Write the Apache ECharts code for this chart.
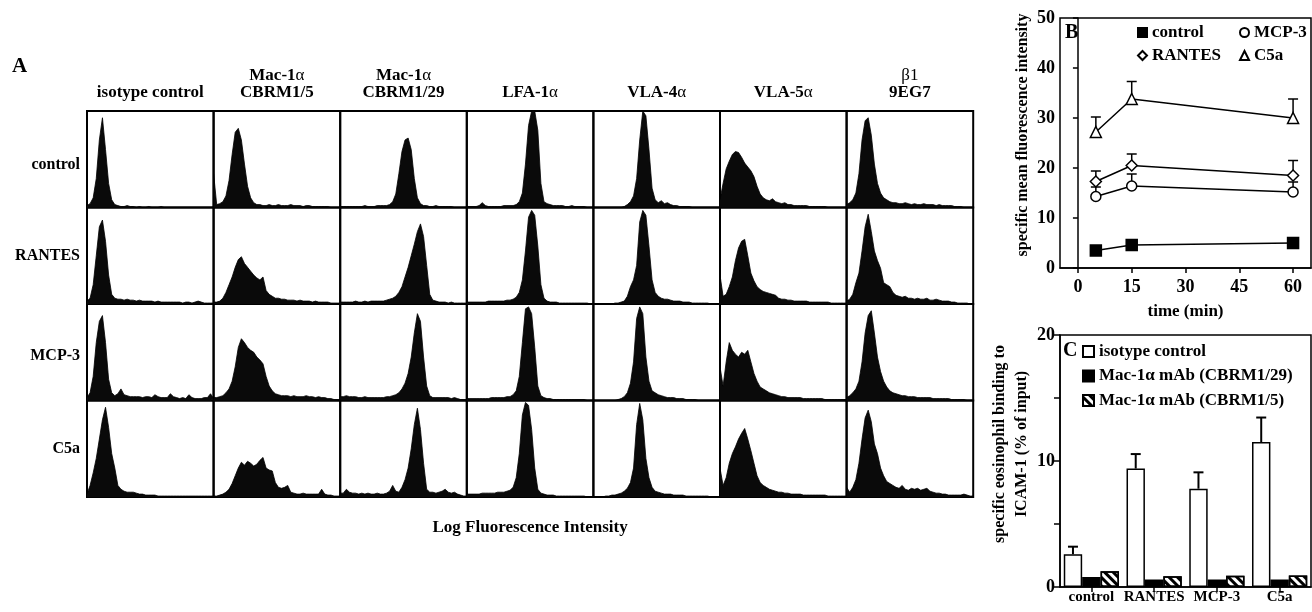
<!DOCTYPE html>
<html><head><meta charset="utf-8">
<script src="https://cdn.jsdelivr.net/npm/echarts@6/dist/echarts.min.js"></script>
<style>html,body{margin:0;padding:0;background:#fff}#c{width:1312px;height:612px}</style>
</head><body><div id="c"></div>
<script>
// ---------- Panel A: flow cytometry histograms (height in % of panel, 42 channels) ----------
const columnLabels = ['isotype control', 'Mac-1α\nCBRM1/5', 'Mac-1α\nCBRM1/29', 'LFA-1α', 'VLA-4α', 'VLA-5α', 'β1\n9EG7'];
const conditions = ['control', 'RANTES', 'MCP-3', 'C5a'];
const axisTitleA = 'Log Fluorescence Intensity';

const hCtrlIso   = [2,4,10,30,70,93,60,25,8,3, 2,1,1,2,1,1,0,1,0,0, 1,0,0,0,1,0,0,0,0,0, 0,0,0,0,0,0,0,0,0,0, 0,0];
const hCtrlMac5  = [35,3,4,6,12,28,55,78,82,70, 45,22,10,5,3,3,2,2,3,2, 2,3,2,2,2,3,2,2,2,1, 2,2,1,1,1,1,1,1,0,0, 0,0];
const hCtrlMac29 = [1,1,1,1,1,1,1,1,2,1, 1,1,2,2,2,2,3,6,14,35, 58,70,72,60,30,10,4,2,2,1, 1,2,1,1,1,1,1,0,0,0, 0,0];
const hCtrlLfa   = [1,1,1,1,2,5,2,1,1,1, 1,1,2,2,2,2,3,6,15,45, 85,100,100,80,25,6,4,3,2,2, 2,2,1,1,2,1,1,1,1,0, 0,0];
const hCtrlVla4  = [0,0,0,0,0,0,0,0,0,0, 1,3,6,12,30,70,100,95,60,20, 8,5,7,4,5,3,2,2,1,1, 1,1,0,0,0,0,0,0,0,0, 0,0];
const hCtrlVla5  = [8,25,40,48,55,58,57,52,46,42, 38,32,22,14,10,8,7,9,6,5, 4,5,3,3,2,2,2,2,2,1, 1,1,1,1,1,0,0,0,0,0, 0,0];
const hCtrlB1    = [3,5,8,15,35,70,90,93,75,45, 25,15,10,8,6,5,5,4,4,5, 4,3,4,3,3,4,3,3,3,2, 3,2,2,2,2,1,1,1,0,0, 0,0];

const hRanIso    = [3,6,20,50,80,87,65,30,10,6, 5,5,4,5,4,4,3,4,3,3, 3,3,2,3,2,2,2,2,2,2, 2,1,2,2,1,2,3,2,1,1, 1,1];
const hRanMac5   = [2,2,3,6,12,20,28,38,46,49, 42,38,34,30,27,25,28,14,10,8, 6,6,5,5,4,4,4,3,4,3, 3,3,2,3,2,2,2,2,1,1, 1,1];
const hRanMac29  = [2,2,2,2,2,3,2,2,3,2, 3,3,3,3,3,4,5,6,8,12, 18,28,38,50,62,75,83,70,40,10, 4,3,2,2,2,1,2,1,1,1, 1,1];
const hRanLfa    = [2,2,2,2,2,2,2,3,3,3, 3,3,3,4,4,5,7,12,25,55, 90,97,92,60,20,6,3,2,2,2, 1,1,1,1,1,1,1,1,1,1, 0,0];
const hRanVla4   = [0,0,0,0,0,0,0,1,1,2, 3,8,18,25,40,85,97,92,60,25, 12,8,6,5,5,4,3,3,3,2, 2,2,1,1,1,1,1,1,0,0, 0,0];
const hRanVla5   = [30,8,10,18,28,45,58,65,67,50, 32,24,18,15,13,12,11,10,9,6, 5,5,4,4,3,3,3,3,3,2, 2,2,2,2,2,2,1,1,1,1, 1,1];
const hRanB1     = [3,5,10,22,32,55,80,93,75,55, 45,37,22,20,18,12,9,8,7,8, 6,6,5,6,5,5,6,4,4,5, 4,3,3,3,2,2,1,1,1,1, 0,0];

const hMcpIso    = [3,8,25,60,82,88,60,22,8,5, 7,12,6,5,4,4,4,4,3,4, 4,3,6,4,3,3,3,7,4,3, 2,3,2,6,3,2,2,2,3,3, 7,2];
const hMcpMac5   = [3,3,4,5,8,12,20,35,55,64, 60,55,52,50,45,42,38,25,15,10, 7,6,5,5,5,4,5,4,4,4, 5,4,4,3,4,3,3,2,2,1, 1,1];
const hMcpMac29  = [4,4,5,4,4,4,3,3,4,3, 3,3,3,3,3,4,4,5,6,8, 12,18,28,45,70,90,82,45,15,5, 3,3,3,3,3,3,2,3,2,1, 1,1];
const hMcpLfa    = [2,2,2,2,2,2,2,2,3,3, 3,3,3,4,4,6,10,25,60,95, 97,90,55,15,5,3,2,2,1,1, 1,1,1,1,1,1,1,1,1,0, 0,0];
const hMcpVla4   = [0,0,0,0,0,0,0,0,1,2, 4,8,18,40,85,97,90,45,20,10, 8,6,5,4,3,3,3,2,2,2, 1,1,1,1,0,0,0,0,0,0, 0,0];
const hMcpVla5   = [35,15,40,60,52,48,45,50,48,52, 40,28,20,14,12,10,8,7,6,5, 4,4,3,3,3,3,3,2,2,2, 2,2,2,2,1,1,1,1,1,1, 1,1];
const hMcpB1     = [3,5,8,12,20,40,70,88,93,70, 45,30,20,14,10,8,7,6,5,5, 4,4,4,3,3,3,3,3,2,2, 2,2,2,2,1,1,1,1,1,0, 0,0];

const hC5aIso    = [3,12,25,40,60,80,93,72,45,30, 12,8,6,5,5,5,4,3,3,2, 2,2,2,1,1,1,1,1,1,1, 1,1,1,1,1,1,1,1,1,1, 1,1];
const hC5aMac5   = [1,1,2,3,5,8,14,22,30,36, 33,37,35,32,34,38,41,30,28,27, 15,10,9,10,12,5,4,3,3,4, 3,3,3,3,3,8,3,2,2,1, 1,1];
const hC5aMac29  = [4,4,8,5,4,4,3,4,3,4, 3,3,4,3,3,4,6,12,6,5, 10,18,30,50,75,92,70,35,8,5, 5,4,5,6,8,5,4,5,3,2, 1,1];
const hC5aLfa    = [3,3,3,3,3,4,4,4,4,4, 5,5,5,6,7,10,20,45,85,98, 95,70,30,8,4,3,2,2,2,1, 1,1,1,1,1,1,1,1,1,0, 0,0];
const hC5aVla4   = [0,0,0,0,1,1,2,2,3,4, 6,9,15,30,75,97,80,40,20,10, 6,5,4,3,3,3,2,2,2,2, 1,1,1,1,1,1,1,1,0,0, 0,0];
const hC5aVla5   = [30,12,20,35,45,52,60,66,71,60, 48,35,22,15,12,10,8,7,6,5, 5,4,4,3,3,3,3,2,2,2, 2,2,2,2,2,1,1,1,1,1, 1,1];
const hC5aB1     = [10,5,10,18,35,60,82,90,78,55, 45,30,22,16,14,12,10,9,12,8, 7,9,8,9,7,8,9,6,5,4, 4,3,3,2,2,2,2,2,3,2, 1,1];

// ---------- Panel B: MFI time course ----------
const timePoints = [5, 15, 60];
const timeTicks = [0, 15, 30, 45, 60];
const mfiControl = [3.5, 4.6, 5.0];
const mfiMCP3 = [14.3, 16.4, 15.2];
const mfiMCP3Err = [1.9, 2.4, 2.0];
const mfiRANTES = [17.3, 20.5, 18.5];
const mfiRANTESErr = [2.1, 2.3, 3.0];
const mfiC5a = [27.2, 33.8, 30.0];
const mfiC5aErr = [3.0, 3.5, 3.8];

// ---------- Panel C: binding to ICAM-1 ----------
const bindCats = ['control', 'RANTES', 'MCP-3', 'C5a'];
const bindIsotype = [2.6, 9.4, 7.8, 11.5];
const bindIsotypeErr = [0.6, 1.15, 1.3, 1.95];
const bindCBRM29 = [0.8, 0.6, 0.6, 0.6];
const bindCBRM5 = [1.25, 0.85, 0.9, 0.92];

// ---------- build ----------
const histRows = [
  [hCtrlIso, hCtrlMac5, hCtrlMac29, hCtrlLfa, hCtrlVla4, hCtrlVla5, hCtrlB1],
  [hRanIso, hRanMac5, hRanMac29, hRanLfa, hRanVla4, hRanVla5, hRanB1],
  [hMcpIso, hMcpMac5, hMcpMac29, hMcpLfa, hMcpVla4, hMcpVla5, hMcpB1],
  [hC5aIso, hC5aMac5, hC5aMac29, hC5aLfa, hC5aVla4, hC5aVla5, hC5aB1]
];
const SERIF = "'Liberation Serif','Times New Roman',serif";
const A_LEFT = 87, A_TOP = 111, CELL_W = 126.6, CELL_H = 96.5;

const grid = [], xAxis = [], yAxis = [], series = [], graphic = [];
histRows.forEach((row, r) => {
  row.forEach((h, c) => {
    const idx = grid.length;
    grid.push({left: A_LEFT + c * CELL_W, top: A_TOP + r * CELL_H, width: CELL_W, height: CELL_H,
      show: true, borderColor: '#000', borderWidth: 2, backgroundColor: 'transparent'});
    xAxis.push({gridIndex: idx, type: 'category', boundaryGap: false, data: h.map((_, i) => i), show: false});
    yAxis.push({gridIndex: idx, type: 'value', min: 0, max: 100, show: false});
    series.push({type: 'line', xAxisIndex: idx, yAxisIndex: idx, data: h, symbol: 'none', silent: true,
      lineStyle: {color: '#000', width: 0.8}, areaStyle: {color: '#0a0a0a', opacity: 1}, animation: false});
  });
});

// Panel B
const gB = grid.length;
grid.push({left: 1060, top: 18, width: 251, height: 250, show: true, borderColor: '#000', borderWidth: 1.5, backgroundColor: 'transparent'});
xAxis.push({gridIndex: gB, type: 'value', min: -5, max: 65,
  axisLine: {show: true, onZero: false, lineStyle: {color: '#000', width: 1.5}},
  axisTick: {show: true, customValues: timeTicks, length: 5, lineStyle: {color: '#000', width: 1.5}},
  axisLabel: {customValues: timeTicks, color: '#000', fontFamily: SERIF, fontWeight: 'bold', fontSize: 18, margin: 10},
  splitLine: {show: false},
  name: 'time (min)', nameLocation: 'middle', nameGap: 35,
  nameTextStyle: {color: '#000', fontFamily: SERIF, fontWeight: 'bold', fontSize: 17}});
yAxis.push({gridIndex: gB, type: 'value', min: 0, max: 50, interval: 10,
  axisLine: {show: true, lineStyle: {color: '#000', width: 1.5}},
  axisTick: {show: true, length: 5, lineStyle: {color: '#000', width: 1.5}},
  axisLabel: {color: '#000', fontFamily: SERIF, fontWeight: 'bold', fontSize: 18, margin: 5},
  splitLine: {show: false},
  name: 'specific mean fluorescence intensity', nameLocation: 'middle', nameGap: 29,
  nameTextStyle: {color: '#000', fontFamily: SERIF, fontWeight: 'bold', fontSize: 16, padding: [0, 0, 0, 16]}});

function errBar(capHalf) {
  return function (params, api) {
    const p0 = api.coord([api.value(0), api.value(1)]);
    const p1 = api.coord([api.value(0), api.value(1) + api.value(2)]);
    return {type: 'group', children: [
      {type: 'line', shape: {x1: p0[0], y1: p0[1], x2: p1[0], y2: p1[1]}, style: {stroke: '#000', lineWidth: 1.5}},
      {type: 'line', shape: {x1: p1[0] - capHalf, y1: p1[1], x2: p1[0] + capHalf, y2: p1[1]}, style: {stroke: '#000', lineWidth: 1.5}}
    ]};
  };
}
const lineB = (name, vals, symbol, size, fill) => ({
  name, type: 'line', xAxisIndex: gB, yAxisIndex: gB, data: timePoints.map((t, i) => [t, vals[i]]),
  symbol, symbolSize: size, z: 3, animation: false,
  lineStyle: {color: '#000', width: 1.5},
  itemStyle: {color: fill, borderColor: '#000', borderWidth: 1.5}
});
[[mfiMCP3, mfiMCP3Err], [mfiRANTES, mfiRANTESErr], [mfiC5a, mfiC5aErr]].forEach(([v, e]) => {
  series.push({type: 'custom', xAxisIndex: gB, yAxisIndex: gB, z: 1, silent: true, animation: false,
    data: timePoints.map((t, i) => [t, v[i], e[i]]), renderItem: errBar(5)});
});
series.push(lineB('control', mfiControl, 'rect', 11, '#000'));
series.push(lineB('MCP-3', mfiMCP3, 'circle', 10, '#fff'));
series.push(lineB('RANTES', mfiRANTES, 'diamond', 11, '#fff'));
series.push(lineB('C5a', mfiC5a, 'triangle', 11, '#fff'));

// Panel C
const gC = grid.length;
const BAR_GAP = 0.12;
grid.push({left: 1060, top: 335, width: 251, height: 252, show: true, borderColor: '#000', borderWidth: 1.5, backgroundColor: 'transparent'});
xAxis.push({gridIndex: gC, type: 'category', data: bindCats,
  axisLine: {show: true, lineStyle: {color: '#000', width: 1.5}},
  axisTick: {show: true, alignWithLabel: true, length: 5, lineStyle: {color: '#000', width: 1.5}},
  axisLabel: {interval: 0, color: '#000', fontFamily: SERIF, fontWeight: 'bold', fontSize: 15, margin: 3}});
yAxis.push({gridIndex: gC, type: 'value', min: 0, max: 20, interval: 5,
  axisLine: {show: true, lineStyle: {color: '#000', width: 1.5}},
  axisTick: {show: true, length: 6, lineStyle: {color: '#000', width: 1.5}},
  axisLabel: {color: '#000', fontFamily: SERIF, fontWeight: 'bold', fontSize: 18, margin: 5,
    formatter: v => (v % 10 === 0 ? String(v) : '')},
  splitLine: {show: false},
  name: 'specific eosinophil binding to\nICAM-1 (% of input)', nameLocation: 'middle', nameGap: 27,
  nameTextStyle: {color: '#000', fontFamily: SERIF, fontWeight: 'bold', fontSize: 16, lineHeight: 22, padding: [0, 0, 0, 34]}});
const barC = (name, vals, style) => ({
  name, type: 'bar', xAxisIndex: gC, yAxisIndex: gC, data: vals, barGap: '0%', barCategoryGap: (BAR_GAP * 100) + '%',
  itemStyle: style, animation: false
});
series.push(barC('isotype control', bindIsotype, {color: '#fff', borderColor: '#000', borderWidth: 1.5}));
series.push(barC('Mac-1α mAb (CBRM1/29)', bindCBRM29, {color: '#000', borderColor: '#000', borderWidth: 1.5}));
series.push(barC('Mac-1α mAb (CBRM1/5)', bindCBRM5, {color: '#fff', borderColor: '#000', borderWidth: 1.5,
  decal: {symbol: 'rect', symbolSize: 1, dashArrayX: [1, 0], dashArrayY: [3, 3], rotation: Math.PI / 4, color: '#000'}}));
series.push({type: 'custom', xAxisIndex: gC, yAxisIndex: gC, z: 5, silent: true, animation: false,
  data: bindCats.map((c, i) => [i, bindIsotype[i], bindIsotypeErr[i]]),
  renderItem: function (params, api) {
    const band = api.size([1, 0])[0];
    const shift = -band * (1 - BAR_GAP) / 3;
    const p0 = api.coord([api.value(0), api.value(1)]);
    const p1 = api.coord([api.value(0), api.value(1) + api.value(2)]);
    const x = p0[0] + shift;
    return {type: 'group', children: [
      {type: 'line', shape: {x1: x, y1: p0[1], x2: x, y2: p1[1]}, style: {stroke: '#000', lineWidth: 2}},
      {type: 'line', shape: {x1: x - 5, y1: p1[1], x2: x + 5, y2: p1[1]}, style: {stroke: '#000', lineWidth: 2}}
    ]};
  }});

// texts
const txt = (x, y, text, font, align, vAlign, extra) => ({type: 'text', x, y, silent: true,
  style: Object.assign({text, font, fill: '#000', align: align || 'left', verticalAlign: vAlign || 'top'}, extra || {})});
graphic.push(txt(12, 56, 'A', "bold 21px " + SERIF));
const rich = {b: {font: "bold 17px " + SERIF, fill: '#000'}, n: {font: "17px " + SERIF, fill: '#000'}};
const fmtBold = s => s.replace(/([^αβ]+)/g, '{b|$1}').replace(/([αβ])/g, '{n|$1}');
columnLabels.forEach((lab, c) => {
  const cx = A_LEFT + (c + 0.5) * CELL_W;
  const parts = lab.split('\n');
  if (parts.length === 2) {
    const first = parts[0].startsWith('β') ? '{n|' + parts[0] + '}' : fmtBold(parts[0]);
    graphic.push(txt(cx, 84, first, "bold 17px " + SERIF, 'center', 'bottom', {rich}));
    graphic.push(txt(cx, 101, fmtBold(parts[1]), "bold 17px " + SERIF, 'center', 'bottom', {rich}));
  } else {
    graphic.push(txt(cx, 101, fmtBold(parts[0]), "bold 17px " + SERIF, 'center', 'bottom', {rich}));
  }
});
const rowLabelY = [165, 256, 356, 449];
conditions.forEach((lab, r) => graphic.push(txt(80, rowLabelY[r], lab, "bold 16px " + SERIF, 'right', 'middle')));
graphic.push(txt(A_LEFT + 3.5 * CELL_W, 528, axisTitleA, "bold 17px " + SERIF, 'center', 'middle'));
graphic.push(txt(1065, 23, 'B', "bold 20px " + SERIF));
graphic.push(txt(1063, 341, 'C', "bold 20px " + SERIF));

const legTxt = {color: '#000', fontFamily: SERIF, fontWeight: 'bold', fontSize: 17};
const legend = [
  {orient: 'vertical', left: 1137, top: 24, padding: 0, itemWidth: 9, itemHeight: 9, itemGap: 6, textStyle: legTxt, selectedMode: false,
    data: [{name: 'control', icon: 'rect'}, {name: 'RANTES', icon: 'diamond'}]},
  {orient: 'vertical', left: 1239, top: 24, padding: 0, itemWidth: 9, itemHeight: 9, itemGap: 6, textStyle: legTxt, selectedMode: false,
    data: [{name: 'MCP-3', icon: 'circle'}, {name: 'C5a', icon: 'triangle'}]},
  {orient: 'vertical', left: 1082, top: 343, padding: 0, itemWidth: 11, itemHeight: 11, itemGap: 7.5, textStyle: legTxt, selectedMode: false,
    data: [{name: 'isotype control', icon: 'rect'}, {name: 'Mac-1α mAb (CBRM1/29)', icon: 'rect'}, {name: 'Mac-1α mAb (CBRM1/5)', icon: 'rect'}]}
];

const chart = echarts.init(document.getElementById('c'), null, {renderer: 'canvas'});
chart.setOption({backgroundColor: '#fff', animation: false, grid, xAxis, yAxis, series, graphic, legend});
</script></body></html>
